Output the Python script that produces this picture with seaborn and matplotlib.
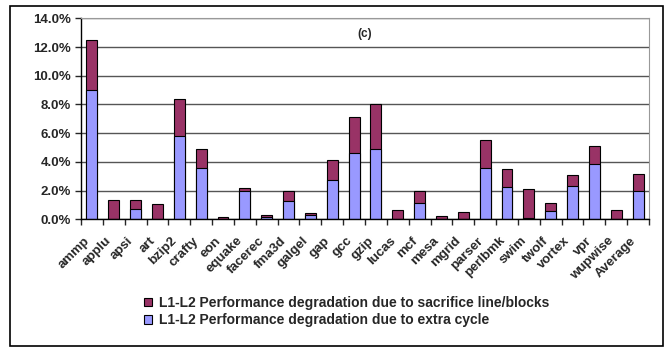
import numpy as np
import pandas as pd
import matplotlib
matplotlib.use("Agg")
import matplotlib.pyplot as plt
import seaborn as sns
from matplotlib.patches import Patch, Rectangle
from matplotlib.ticker import FuncFormatter, FixedLocator

benchmarks = ["ammp", "applu", "apsi", "art", "bzip2", "crafty", "eon", "equake",
              "facerec", "fma3d", "galgel", "gap", "gcc", "gzip", "lucas", "mcf",
              "mesa", "mgrid", "parser", "perlbmk", "swim", "twolf", "vortex", "vpr",
              "wupwise", "Average"]
# extra cycle part (blue, bottom)
extra_cycle = [9.0, 0.0, 0.7, 0.0, 5.8, 3.55, 0.0, 1.99, 0.18, 1.27, 0.28, 2.76,
               4.6, 4.87, 0.0, 1.11, 0.05, 0.03, 3.6, 2.23, 0.1, 0.6, 2.34, 3.85,
               0.0, 1.97]
# total height of stacked bar (blue + red)
total = [12.49, 1.34, 1.34, 1.07, 8.36, 4.87, 0.14, 2.16, 0.32, 1.95, 0.46, 4.11,
         7.15, 8.0, 0.63, 1.99, 0.25, 0.49, 5.52, 3.48, 2.09, 1.11, 3.09, 5.08,
         0.63, 3.13]

red = "#993366"
blue = "#9999FF"

df = pd.DataFrame({"bench": benchmarks, "extra": extra_cycle, "total": total})

sns.set_style("white")
plt.rcParams["font.family"] = ["Liberation Sans", "DejaVu Sans"]
plt.rcParams["font.weight"] = "bold"

fig = plt.figure(figsize=(6.68, 3.48), dpi=100)
ax = fig.add_axes([0.1213, 0.3698, 0.8503, 0.5776])

sns.barplot(data=df, x="bench", y="total", color=red, width=0.5,
            edgecolor="black", linewidth=0.8, saturation=1, ax=ax)
sns.barplot(data=df, x="bench", y="extra", color=blue, width=0.5,
            edgecolor="black", linewidth=0.8, saturation=1, ax=ax)

ax.set_ylim(0, 14)
ax.set_xlim(-0.5, len(benchmarks) - 0.5)
ax.set_yticks(np.arange(0, 14.1, 2))
ax.yaxis.set_major_formatter(FuncFormatter(lambda v, p: f"{v:.1f}%"))
ax.set_xlabel("")
ax.set_ylabel("")

ax.yaxis.grid(True, color="#555555", linewidth=1)
ax.set_axisbelow(True)
for s in ["top", "right"]:
    ax.spines[s].set_color("#999999")
for s in ["left", "bottom"]:
    ax.spines[s].set_color("black")
    ax.spines[s].set_linewidth(1)

ax.tick_params(axis="y", left=True, length=4, width=1, labelsize=9.5, pad=3)
ax.tick_params(axis="x", which="major", length=0, labelsize=9.5, pad=11)
ax.xaxis.set_minor_locator(FixedLocator(np.arange(-0.5, len(benchmarks), 1)))
ax.tick_params(axis="x", which="minor", bottom=True, length=4, width=1)
for lbl in ax.get_xticklabels():
    lbl.set_rotation(45)
    lbl.set_ha("right")
    lbl.set_fontweight("bold")
for lbl in ax.get_yticklabels():
    lbl.set_fontweight("bold")

ax.text(0.5, 0.95, "(c)", transform=ax.transAxes, ha="center", va="top",
        fontsize=8.5, fontweight="bold")

handles = [Patch(facecolor=red, edgecolor="black", linewidth=0.8,
                 label="L1-L2 Performance degradation due to sacrifice line/blocks"),
           Patch(facecolor=blue, edgecolor="black", linewidth=0.8,
                 label="L1-L2 Performance degradation due to extra cycle")]
fig.legend(handles=handles, loc="upper left", bbox_to_anchor=(144 / 668, 1 - 296 / 348),
           frameon=False, fontsize=10, handlelength=0.55, handleheight=0.55,
           handletextpad=0.5, labelspacing=0.25, borderaxespad=0, borderpad=0)

fig.patches.append(Rectangle((10 / 668, 2 / 348), 653 / 668, 340 / 348,
                             transform=fig.transFigure, fill=False,
                             edgecolor="black", linewidth=1.2))

fig.savefig("out.png", dpi=100)
